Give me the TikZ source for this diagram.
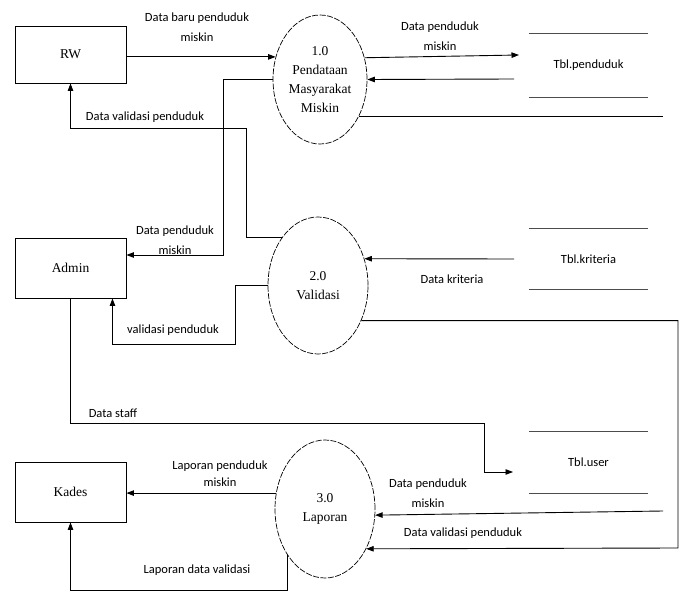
\documentclass[tikz,border=0pt]{standalone}
\usepackage{fontspec}
\setmainfont{Liberation Serif}
\newfontfamily\lblfont{Carlito}
\usetikzlibrary{arrows.meta,shapes.geometric,calc}
\begin{document}
\begin{tikzpicture}[x=1pt,y=-1pt,
  ent/.style={draw, line width=0.9pt, minimum width=111pt, minimum height=58pt, inner sep=0pt, font=\fontsize{13.5}{16}\selectfont},
  proc/.style={draw, ellipse, dash pattern=on 6pt off 1.5pt, line width=0.7pt, inner sep=0pt, align=center, font=\fontsize{13.5}{19}\selectfont},
  store/.style={minimum width=119pt, inner sep=0pt, font=\lblfont\fontsize{12.5}{14}\selectfont},
  storeline/.style={line width=1.3pt, black!70},
  flow/.style={line width=0.9pt, -{Triangle[length=7.5pt,width=5.5pt]}},
  plain/.style={line width=0.9pt},
  lbl/.style={font=\lblfont\fontsize{12.5}{20}\selectfont, align=center, inner sep=0pt}
]
\useasboundingbox[fill=white] (0,0) rectangle (683,596);

% entities
\node[ent, minimum height=57pt] (rw) at (70.5,54.5) {RW};
\node[ent, minimum height=60pt] (admin) at (70.5,268) {Admin};
\node[ent, minimum height=60pt] (kades) at (70.5,492) {Kades};

% processes
\node[proc, minimum width=94pt, minimum height=129pt] (p1) at (320,79.5) {1.0\\Pendataan\\Masyarakat\\Miskin};
\node[proc, minimum width=100pt, minimum height=137pt] (p2) at (318,285.5) {2.0\\Validasi};
\node[proc, minimum width=100pt, minimum height=138pt] (p3) at (325,509) {3.0\\Laporan};

% data stores
\node[store, minimum height=63pt] (tp) at (588.5,65.5) {Tbl.penduduk};
\node[store, minimum height=60pt] (tk) at (588.5,259) {Tbl.kriteria};
\node[store, minimum height=61pt] (tu) at (588.5,462.5) {Tbl.user};
\foreach \s in {tp,tk,tu}{
  \draw[storeline] (\s.north west) -- (\s.north east) (\s.south west) -- (\s.south east);
}

% bend points and free ends
\coordinate (tpin) at (519,55);
\coordinate (tpout) at (514,79);
\coordinate (e1) at (663,116);
\coordinate (b1) at (223,255);
\coordinate (b2) at (246,128);
\coordinate (b3) at (235,344);
\coordinate (b4) at (484,423);
\coordinate (stf) at (513,472);
\coordinate (tkout) at (514,259);
\coordinate (b5) at (678,548);
\coordinate (tuout) at (663,511);
\coordinate (b6) at (0,590);

% flows
\draw[flow] (rw.east |- p1.153) -- (p1.153);
\draw[flow] (p1.26) -- (tpin);
\draw[flow] (tpout) -- (p1.east);
\draw[plain] (p1.-43) -- (p1.-43 -| e1);
\draw[flow] (p1.west) -| (b1) -- (b1 -| admin.east);
\draw[flow] (p2.127) -| (b2) -| (rw.south);
\draw[flow] (p2.west) -| (b3) -| ($(admin.south)!0.75!(admin.south east)$);
\draw[flow] (admin.south) |- (b4) |- (stf);
\draw[flow] (tkout) -- (p2.30);
\draw[flow] (p2.-39) -| (b5) -- (p3.-44);
\draw[flow] (tuout) -- (p3.-7);
\draw[flow] (p3.162) -- (p3.162 -| kades.east);
\draw[flow] (p3.231) -- (p3.231 |- b6) -| (kades.south);

% labels
\node[lbl] (l1) at (197,27) {Data baru penduduk\\miskin};
\node[lbl] (l2) at (440,36) {Data penduduk\\miskin};
\node[lbl] (l3) at (145,117) {Data validasi penduduk};
\node[lbl] (l4) at (175,240) {Data penduduk\\miskin};
\node[lbl] (l5) at (452,279) {Data kriteria};
\node[lbl] (l6) at (173,330) {validasi penduduk};
\node[lbl] (l7) at (113,413) {Data staff};
\node[lbl] (l8) at (428,493) {Data penduduk\\miskin};
\node[lbl] (l9) at (463,533) {Data validasi penduduk};
\node[lbl, font=\lblfont\fontsize{12.5}{17}\selectfont] (l10) at (220,474) {Laporan penduduk\\miskin};
\node[lbl] (l11) at (197,570) {Laporan data validasi};
\end{tikzpicture}
\end{document}
